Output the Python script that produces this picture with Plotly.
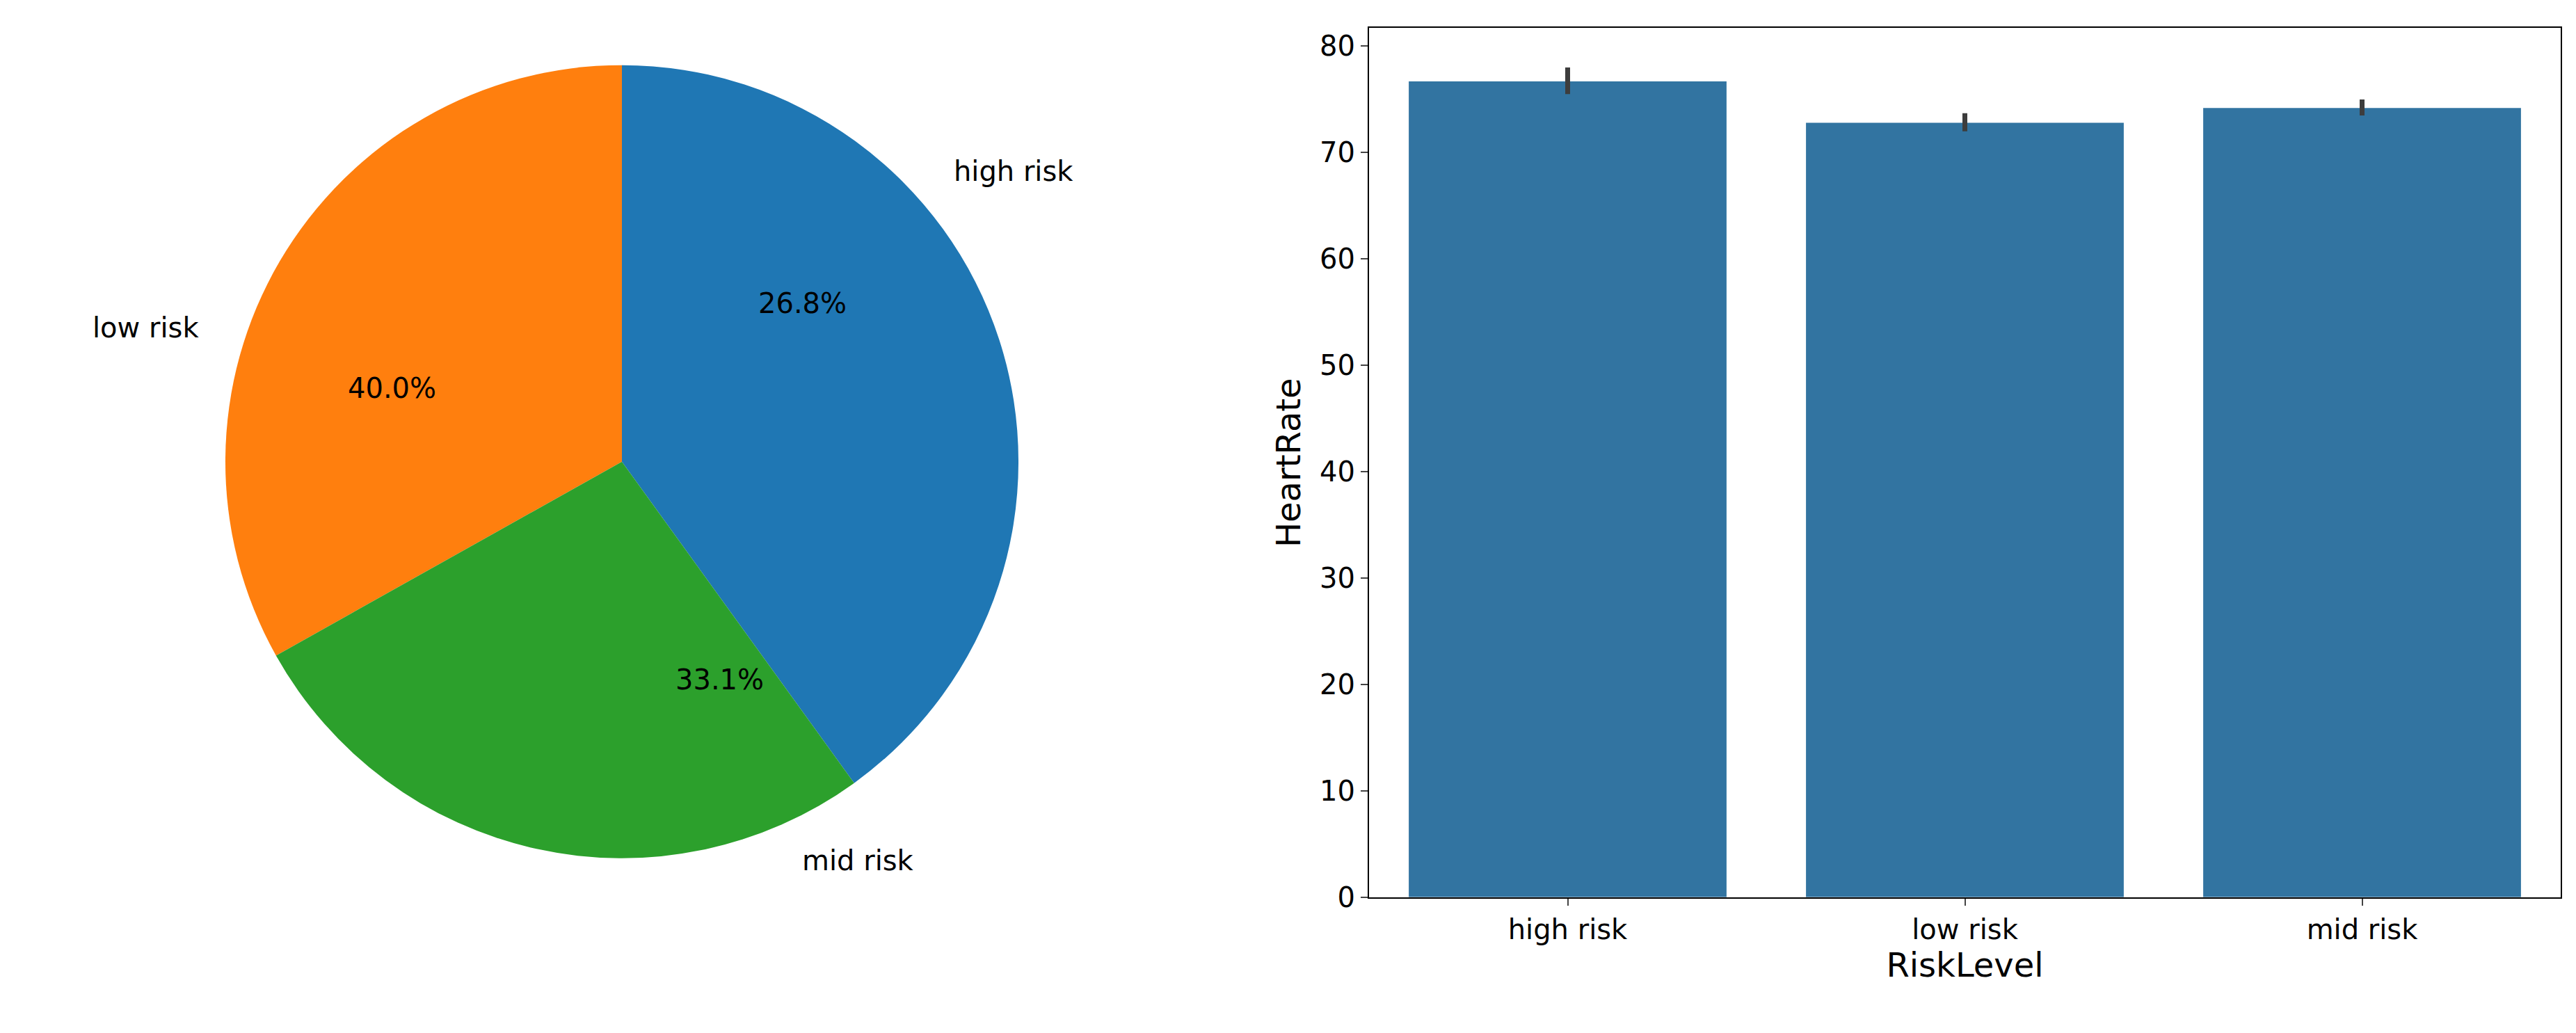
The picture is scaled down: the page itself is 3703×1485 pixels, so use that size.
import numpy as np
import plotly.graph_objects as go

risk_labels = ["low risk", "mid risk", "high risk"]
risk_share = [40.0, 33.1, 26.8]
pie_colors = ["#1f77b4", "#ff7f0e", "#2ca02c"]

bar_cats = ["high risk", "low risk", "mid risk"]
heart_rate = [76.7, 72.8, 74.2]
err_low = [75.5, 72.0, 73.5]
err_high = [78.0, 73.7, 75.0]

W, H = 3703, 1485
FONT = "DejaVu Sans"
FS = 40

fig = go.Figure()

# pie, placed with its own domain
cx, cy, r = 886, 666, 579
fig.add_trace(go.Pie(
    labels=risk_labels, values=risk_share, sort=False, direction="counterclockwise",
    rotation=0, marker=dict(colors=pie_colors), textinfo="none", hoverinfo="label+percent",
    showlegend=False,
    domain=dict(x=[(cx - r) / W, (cx + r) / W], y=[(H - cy - r) / H, (H - cy + r) / H]),
))

# labels like matplotlib: names at 1.1 r, percentages at 0.6 r
total = sum(risk_share)
start = 90.0
for lab, v in zip(risk_labels, risk_share):
    mid = np.radians(start + 360 * v / total / 2)
    start += 360 * v / total
    for dist, txt in ((1.1, lab), (0.6, f"{v:.1f}%")):
        x = cx + dist * r * np.cos(mid)
        y = cy - dist * r * np.sin(mid)
        anchor = "center"
        if dist > 1:
            anchor = "left" if np.cos(mid) > 0 else "right"
        fig.add_annotation(x=x / W, y=1 - y / H, xref="paper", yref="paper", text=txt,
                           showarrow=False, xanchor=anchor, yanchor="middle",
                           font=dict(family=FONT, size=FS, color="black"))

fig.add_trace(go.Bar(
    x=bar_cats, y=heart_rate, marker=dict(color="#3274a1", line=dict(width=0)), width=0.8,
    error_y=dict(type="data", symmetric=False,
                 array=[h - v for h, v in zip(err_high, heart_rate)],
                 arrayminus=[v - l for l, v in zip(err_low, heart_rate)],
                 color="#3d3d3d", thickness=7, width=0),
    showlegend=False, xaxis="x", yaxis="y",
))

fig.update_layout(
    width=W, height=H, margin=dict(l=0, r=0, t=0, b=0),
    paper_bgcolor="white", plot_bgcolor="white",
    font=dict(family=FONT, size=FS, color="black"),
    xaxis=dict(domain=[1960 / W, 3673 / W], range=[-0.5, 2.5], showline=True, mirror=True,
               linecolor="black", linewidth=2, ticks="outside", ticklen=10, tickwidth=2,
               title=dict(text="RiskLevel", standoff=8), anchor="y"),
    yaxis=dict(domain=[(H - 1302) / H, (H - 33) / H], range=[0, 81.7], dtick=10,
               showline=True, mirror=True, linecolor="black", linewidth=2, showgrid=False,
               zeroline=False, ticks="outside", ticklen=10, tickwidth=2,
               title=dict(text="HeartRate", standoff=12), anchor="x"),
)

fig.write_html("out.html")
